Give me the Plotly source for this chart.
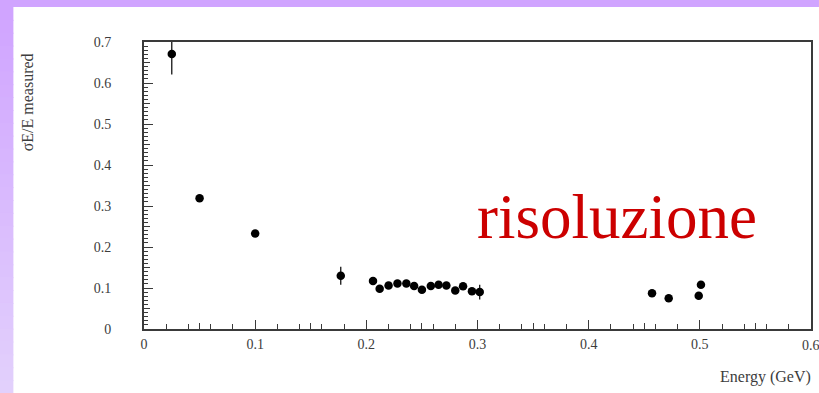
import plotly.graph_objects as go

# Data
energy = [0.025, 0.050, 0.100, 0.177, 0.206, 0.212, 0.220, 0.228, 0.236, 0.243,
          0.250, 0.258, 0.265, 0.272, 0.280, 0.287, 0.295, 0.302,
          0.457, 0.472, 0.499, 0.501]
resolution = [0.671, 0.319, 0.233, 0.130, 0.117, 0.098, 0.106, 0.111, 0.111, 0.105,
              0.096, 0.105, 0.108, 0.106, 0.094, 0.104, 0.092, 0.090,
              0.087, 0.075, 0.081, 0.108]
res_err = [0.05, 0.006, 0.006, 0.022, 0.006, 0.005, 0.005, 0.005, 0.005, 0.005,
           0.005, 0.005, 0.005, 0.005, 0.005, 0.005, 0.008, 0.018,
           0.006, 0.006, 0.006, 0.008]

x_ticks = [0, 0.1, 0.2, 0.3, 0.4, 0.5, 0.6]
x_tick_labels = ["0", "0.1", "0.2", "0.3", "0.4", "0.5", "0.6"]
y_ticks = [0, 0.1, 0.2, 0.3, 0.4, 0.5, 0.6, 0.7]
y_tick_labels = ["0", "0.1", "0.2", "0.3", "0.4", "0.5", "0.6", "0.7"]

W, H = 819, 393
L, R, T, B = 144, 813, 42, 329
pw, ph = R - L, B - T

def px(xp):
    return (xp - L) / pw

def py(yp):
    return (B - yp) / ph

serif = "Liberation Serif, Times New Roman, serif"
axcol = "#3a3a3a"
lblcol = "#3c3c3c"

fig = go.Figure()
fig.add_trace(go.Scatter(
    x=energy, y=resolution, mode="markers",
    marker=dict(color="black", size=8.5),
    error_y=dict(type="data", array=res_err, color="black", thickness=1.2, width=0),
    xaxis="x", yaxis="y", showlegend=False, cliponaxis=True,
))
fig.add_trace(go.Scatter(x=[0], y=[0], xaxis="x2", yaxis="y2", mode="markers",
                         marker=dict(opacity=0), showlegend=False, hoverinfo="skip"))

common = dict(showgrid=False, zeroline=False, ticks="inside", tickcolor=axcol)

fig.update_layout(
    width=W, height=H,
    margin=dict(l=L, r=W - R, t=T, b=H - B, pad=0),
    paper_bgcolor="white", plot_bgcolor="white",
    font=dict(family=serif, color=lblcol, size=14),
    xaxis=dict(range=[0, 0.6], tickvals=x_ticks, ticktext=x_tick_labels,
               ticklen=9, tickwidth=1.3, showline=True, linecolor=axcol, linewidth=2,
               mirror=True, ticklabelstandoff=1,
               tickfont=dict(family=serif, size=14, color=lblcol),
               minor=dict(dtick=0.02, tick0=0, ticklen=5, tickwidth=1.3,
                          tickcolor=axcol, ticks="inside", showgrid=False),
               **common),
    yaxis=dict(range=[0, 0.7], tickvals=y_ticks, ticktext=y_tick_labels,
               ticklen=9, tickwidth=1.3, showline=True, linecolor=axcol, linewidth=2,
               mirror=True, ticklabelstandoff=28,
               tickfont=dict(family=serif, size=14, color=lblcol),
               minor=dict(dtick=0.01, tick0=0, ticklen=4, tickwidth=1.1,
                          tickcolor=axcol, ticks="inside", showgrid=False),
               **common),
    xaxis2=dict(overlaying="x", range=[0, 0.6], dtick=0.05, tick0=0,
                ticklen=6, tickwidth=1.3, showticklabels=False, showline=False,
                side="bottom", anchor="y2", **common),
    yaxis2=dict(overlaying="y", range=[0, 0.7], dtick=0.05, tick0=0,
                ticklen=6, tickwidth=1.2, showticklabels=False, showline=False,
                side="left", anchor="x2", **common),
)

shapes = []
shapes.append(dict(type="rect", xref="paper", yref="paper",
                   x0=px(-2), x1=px(W + 2), y0=py(7), y1=py(-2),
                   fillcolor="#D0A4FF", line=dict(width=0), layer="above"))
n = 30
c0 = (0xD0, 0xA4, 0xFF)
c1 = (0xE2, 0xD0, 0xFC)
for i in range(n):
    t = i / (n - 1)
    c = tuple(round(c0[k] + (c1[k] - c0[k]) * t) for k in range(3))
    y0p = 7 + (H - 7) * i / n
    y1p = 7 + (H - 7) * (i + 1) / n + 1
    shapes.append(dict(type="rect", xref="paper", yref="paper",
                       x0=px(-2), x1=px(13), y0=py(y1p), y1=py(y0p),
                       fillcolor="rgb(%d,%d,%d)" % c, line=dict(width=0), layer="above"))
fig.update_layout(shapes=shapes)

# last x tick label, partly cut by the page edge as in the original
fig.add_annotation(text=x_tick_labels[-1], xref="x", yref="paper",
                   x=x_ticks[-1], y=py(336), xanchor="center", yanchor="top",
                   showarrow=False, font=dict(family=serif, size=14, color=lblcol))

fig.add_annotation(text="risoluzione", xref="paper", yref="paper",
                   x=px(476), y=py(217), xanchor="left", yanchor="middle",
                   showarrow=False, font=dict(family=serif, size=63, color="#CC0000"))
fig.add_annotation(text="Energy (GeV)", xref="paper", yref="paper",
                   x=px(815), y=py(377), xanchor="right", yanchor="middle",
                   showarrow=False, font=dict(family=serif, size=16, color=lblcol))
fig.add_annotation(text="σE/E measured", xref="paper", yref="paper",
                   x=px(28), y=py(102), xanchor="center", yanchor="middle", textangle=-90,
                   showarrow=False, font=dict(family=serif, size=16, color=lblcol))

fig.write_html("out.html", config={"displayModeBar": False},
               post_script="document.body.style.margin='0';document.body.style.overflow='hidden';")
